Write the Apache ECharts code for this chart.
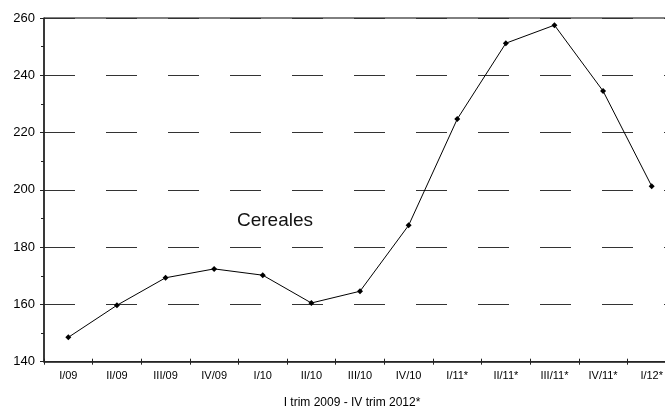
<!DOCTYPE html>
<html>
<head>
<meta charset="utf-8">
<script src="https://cdn.jsdelivr.net/npm/echarts@6/dist/echarts.min.js"></script>
<style>html,body{margin:0;padding:0;background:#fff}#c{width:665px;height:408px}</style>
</head>
<body>
<div id="c"></div>
<script>
const categories = ['I/09','II/09','III/09','IV/09','I/10','II/10','III/10','IV/10','I/11*','II/11*','III/11*','IV/11*','I/12*'];
const cereales = [148.5, 159.7, 169.3, 172.4, 170.2, 160.5, 164.6, 187.6, 224.7, 251.2, 257.5, 234.5, 201.3];
const seriesName = 'Cereales';
const xAxisTitle = 'I trim 2009 - IV trim 2012*';

const FONT = '"Liberation Sans", Arial, sans-serif';
const chart = echarts.init(document.getElementById('c'));
chart.setOption({
  animation: false,
  backgroundColor: '#fff',
  grid: { left: 44, top: 18, width: 632, height: 343.7, outerBoundsMode: 'none', containLabel: false, show: true, borderColor: '#000', borderWidth: 1, backgroundColor: 'transparent' },
  xAxis: [{
    type: 'category',
    data: categories,
    boundaryGap: true,
    axisLine: { show: true, lineStyle: { color: '#222', width: 1.5 } },
    axisTick: { show: true, length: 3, lineStyle: { color: '#222', width: 1 } },
    axisLabel: { color: '#000', fontSize: 11, fontFamily: FONT, margin: 9, interval: 0 },
    splitLine: { show: false },
    name: xAxisTitle,
    nameLocation: 'middle',
    nameGap: 35,
    nameTextStyle: { color: '#000', fontSize: 12, fontFamily: FONT, padding: [0, 16, 0, 0] }
  }, {
    type: 'category',
    data: categories,
    position: 'bottom',
    boundaryGap: true,
    axisLine: { show: false },
    axisTick: { show: true, inside: true, length: 3, lineStyle: { color: '#222', width: 1 } },
    axisLabel: { show: false },
    splitLine: { show: false }
  }],
  yAxis: {
    type: 'value',
    min: 140, max: 260, interval: 20,
    axisLine: { show: true, lineStyle: { color: '#222', width: 1.5 } },
    axisTick: { show: true, length: 4, lineStyle: { color: '#222' } },
    minorTick: { show: true, splitNumber: 2, length: 3, lineStyle: { color: '#222' } },
    axisLabel: { color: '#000', fontSize: 13, fontFamily: FONT, margin: 9 },
    splitLine: { show: true, lineStyle: { color: '#333', width: 1, type: [31, 31] } }
  },
  series: [{
    name: seriesName,
    type: 'line',
    data: cereales,
    symbol: 'diamond',
    symbolSize: 6,
    itemStyle: { color: '#000' },
    lineStyle: { color: '#000', width: 1 }
  }],
  graphic: [{
    type: 'text',
    left: 237, top: 211,
    style: { text: seriesName, fill: '#111', font: '19px "Liberation Sans", Arial, sans-serif' }
  }]
});
</script>
</body>
</html>
